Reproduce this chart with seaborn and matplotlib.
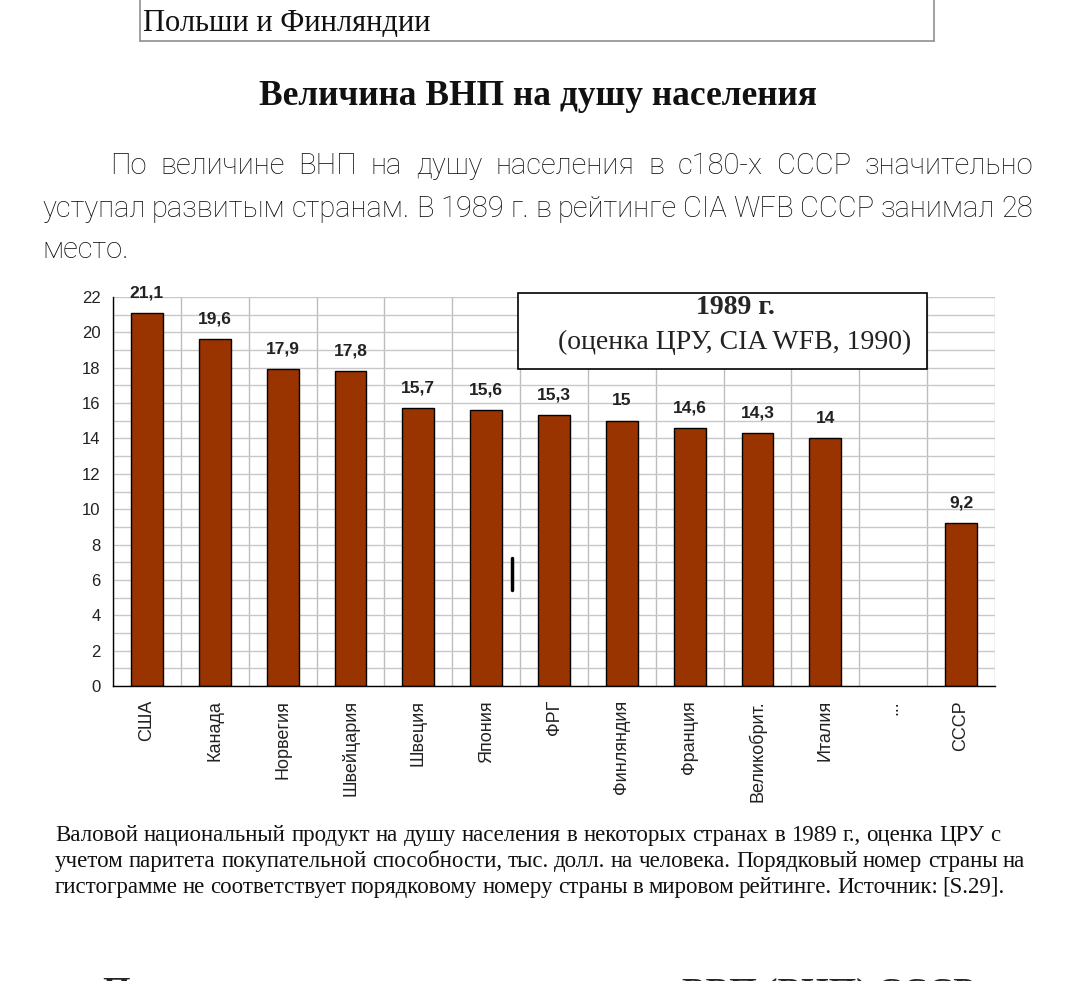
import numpy as np
import pandas as pd
import matplotlib
matplotlib.use('Agg')
import matplotlib.pyplot as plt
import seaborn as sns
from matplotlib.patches import Rectangle
from matplotlib.lines import Line2D

# Data
countries = ["США", "Канада", "Норвегия", "Швейцария", "Швеция", "Япония", "ФРГ",
             "Финляндия", "Франция", "Великобрит.", "Италия", "...", "СССР"]
gnp = [21.1, 19.6, 17.9, 17.8, 15.7, 15.6, 15.3, 15.0, 14.6, 14.3, 14.0, np.nan, 9.2]

heading = "Величина ВНП на душу населения"
para_lines = ["По величине ВНП на душу населения в с180-х СССР значительно",
              "уступал развитым странам. В 1989 г. в рейтинге CIA WFB СССР занимал 28",
              "место."]
caption_lines = ["Валовой национальный продукт на душу населения в некоторых странах в 1989 г., оценка ЦРУ  с",
                 "учетом паритета покупательной способности, тыс. долл. на человека. Порядковый номер страны на",
                 "гистограмме не  соответствует порядковому номеру страны в мировом рейтинге. Источник:  [S.29]."]
box_title = "1989 г."
box_sub = "(оценка ЦРУ, CIA WFB, 1990)"
next_heading = ("Показатели темпов прироста", "ВВП (ВНП) СССР")

W, H = 1080, 981
sns.set_style('white')
plt.rcParams['font.family'] = ['Liberation Sans', 'DejaVu Sans']

fig = plt.figure(figsize=(W / 100, H / 100), dpi=100)
renderer = fig.canvas.get_renderer()


def fx(x):
    return x / W


def fy(y):
    return 1 - y / H


def justify(line, x0, x1, y, **kw):
    words = line.split()
    texts = [fig.text(0, fy(y), w, va='baseline', ha='left', **kw) for w in words]
    widths = [t.get_window_extent(renderer).width for t in texts]
    gap = (x1 - x0 - sum(widths)) / max(len(words) - 1, 1)
    x = x0
    for t, w in zip(texts, widths):
        t.set_x(fx(x))
        x += w + gap


# Chart
ax = fig.add_axes([fx(113), fy(686), fx(995) - fx(113), fy(297) - fy(686)])
df = pd.DataFrame({'country': countries, 'gnp': gnp}).dropna()
sns.barplot(data=df, x='country', y='gnp', order=countries, color='#993300',
            saturation=1, edgecolor='black', linewidth=1, width=0.47, ax=ax)

n = len(countries)
ax.set_ylim(0, 22)
ax.set_xlim(-0.5, n - 0.5)
ax.set_yticks(range(0, 23, 2))
ax.set_yticks(range(0, 23), minor=True)
ax.set_xticks(range(n))
ax.set_xticklabels(countries, rotation=90, va='top', ha='center', fontsize=13, color='#222222')
ax.set_xticks(np.arange(n + 1) - 0.5, minor=True)
ax.tick_params(axis='x', which='major', length=0, pad=10)
ax.tick_params(axis='x', which='minor', length=6, width=1, color='black')
ax.tick_params(axis='y', which='major', length=6, width=1, pad=3, labelsize=12,
               color='black', labelcolor='#222222')
ax.tick_params(axis='y', which='minor', length=4, width=1, color='black')
ax.grid(True, which='both', axis='y', color='#c8c8c8', linewidth=1)
ax.grid(True, which='minor', axis='x', color='#bdbdbd', linewidth=1)
ax.set_axisbelow(True)
for s in ['top', 'right']:
    ax.spines[s].set_visible(False)
for s in ['left', 'bottom']:
    ax.spines[s].set_color('black')
    ax.spines[s].set_linewidth(1)
ax.set_xlabel('')
ax.set_ylabel('')

for c in ax.containers:
    ax.bar_label(c, fmt=lambda v: f"{v:g}".replace('.', ','), padding=9,
                 fontsize=12.5, fontweight='bold', color='#222222')

# Title box inside chart
fig.add_artist(Rectangle((fx(518), fy(369)), fx(927) - fx(518), fy(293) - fy(369),
                         transform=fig.transFigure, facecolor='white',
                         edgecolor='black', linewidth=1.2, zorder=5))
fig.text(fx(735), fy(307), box_title, ha='center', va='center', fontsize=20,
         fontweight='bold', family='Liberation Serif', zorder=6)
fig.text(fx(735), fy(342), box_sub, ha='center', va='center', fontsize=20,
         family='Liberation Serif', color='#222222', zorder=6)

# Cursor mark
fig.add_artist(Line2D([fx(512), fx(512)], [fy(558), fy(590)], transform=fig.transFigure,
                      color='black', linewidth=2.5))

# Top cut-off box
for xs, ys in [([140, 140], [0, 41]), ([140, 934], [41, 41]), ([934, 934], [0, 41])]:
    fig.add_artist(Line2D([fx(v) for v in xs], [fy(v) for v in ys],
                          transform=fig.transFigure, color='#909090', linewidth=1.2))
fig.text(fx(143), fy(31), "Польши и Финляндии", ha='left', va='baseline',
         fontsize=22, family='Liberation Serif', color='#111111')

# Heading
fig.text(fx(538), fy(105), heading, ha='center', va='baseline', fontsize=25.5,
         fontweight='bold', family='Liberation Serif', color='#111111')

# Paragraph
pk = dict(fontsize=21, family='Roboto', fontweight='light', color='#0d0d0d')
justify(para_lines[0], 110, 1033, 174, **pk)
justify(para_lines[1], 42, 1033, 217, **pk)
fig.text(fx(42), fy(258), para_lines[2], ha='left', va='baseline', **pk)

# Caption
ck = dict(fontsize=16.5, family='Liberation Serif', color='#111111')
justify(caption_lines[0], 55, 1000, 841, **ck)
justify(caption_lines[1], 55, 1025, 867, **ck)
justify(caption_lines[2], 55, 1005, 893, **ck)

# Next heading, cut off at the bottom edge as in the page
hk = dict(fontsize=25.5, fontweight='bold', family='Liberation Serif', va='baseline')
fig.text(fx(103), fy(1002), next_heading[0], ha='left', **hk)
fig.text(fx(975), fy(1002), next_heading[1], ha='right', **hk)

fig.savefig('out.png', dpi=100)
